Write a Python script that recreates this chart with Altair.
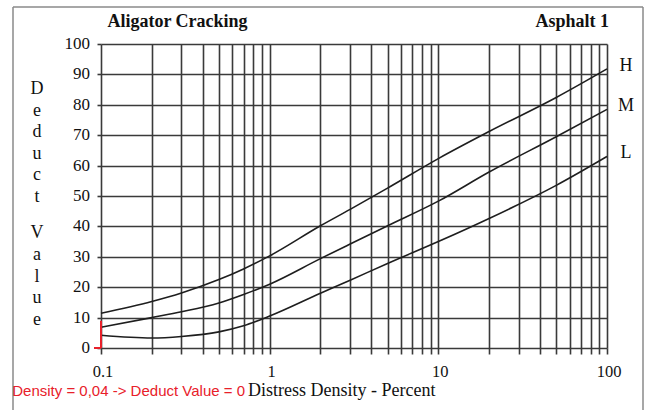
import altair as alt
import pandas as pd

# Deduct value curves for alligator cracking (asphalt), by severity
density = [0.1, 0.2, 0.3, 0.5, 0.7, 1, 2, 3, 5, 10, 20, 50, 100]
deduct_high = [11.4, 15.3, 18.1, 22.5, 26.0, 30.3, 40.2, 45.6, 52.6, 62.3, 71.2, 82.4, 91.8]
deduct_medium = [6.8, 10.0, 11.9, 14.8, 17.6, 21.0, 29.4, 34.2, 40.2, 48.3, 57.9, 69.5, 78.5]
deduct_low = [4.2, 3.3, 3.8, 5.3, 7.3, 10.5, 18.0, 22.3, 27.8, 35.0, 42.6, 53.5, 63.0]
severity = ["H", "M", "L"]

# Marker for the low-density case
marker_density = [0.1]
marker_bottom = [0.0]
marker_top = [9.0]

# Axis ticks and their labels
x_ticks = [round(m * 10 ** e, 4) for e in (-1, 0, 1) for m in range(1, 10)] + [100]
x_labelled = [0.1, 1, 10, 100]
x_label_text = ["0.1", "1", "10", "100"]
y_ticks = list(range(0, 101, 10))
y_label_text = [str(v) for v in y_ticks]

series = [deduct_high, deduct_medium, deduct_low]
rows = []
for sev, vals in zip(severity, series):
    for d, v in zip(density, vals):
        rows.append({"density": d, "deduct": v, "severity": sev})
curves = pd.DataFrame(rows)
ends = pd.DataFrame(
    {"density": [density[-1]] * 3, "deduct": [s[-1] for s in series], "severity": severity}
)
marker = pd.DataFrame({"density": marker_density, "deduct": marker_bottom, "top": marker_top})
x_labels = pd.DataFrame({"density": x_labelled, "label": x_label_text})
y_labels = pd.DataFrame({"deduct": y_ticks, "label": y_label_text})

SERIF = "Liberation Serif"
GRID = "#3a3a3a"
INK = "#111111"
RED = "#e8202a"

x_scale = alt.Scale(type="log", domain=[0.1, 100], nice=False)
y_scale = alt.Scale(domain=[0, 100], nice=False)

x_axis = alt.Axis(
    values=x_ticks,
    labels=False,
    grid=True,
    gridColor=GRID,
    gridWidth=1.6,
    gridOpacity=1,
    domain=False,
    tickColor=GRID,
    tickWidth=1.6,
    tickSize=6,
    title=None,
)
y_axis = alt.Axis(
    values=y_ticks,
    labels=False,
    grid=True,
    gridColor=GRID,
    gridWidth=1.6,
    gridOpacity=1,
    domain=False,
    tickColor=GRID,
    tickWidth=1.6,
    tickSize=4,
    title=None,
)

X = alt.X("density:Q", scale=x_scale, axis=x_axis)
Y = alt.Y("deduct:Q", scale=y_scale, axis=y_axis)

lines = alt.Chart(curves).mark_line(
    color="#1e1e1e", strokeWidth=1.6, interpolate="monotone"
).encode(x=X, y=Y, detail="severity:N")

marker_rule = alt.Chart(marker).mark_rule(color=RED, strokeWidth=2).encode(
    x=X, y=Y, y2="top:Q"
)

end_labels = alt.Chart(ends).mark_text(
    font=SERIF, fontSize=18, align="center", baseline="middle", dx=19, dy=-3, color=INK
).encode(x=X, y=Y, text="severity:N")

# Tick labels, placed through the same scales as the curves
x_tick_labels = alt.Chart(x_labels).mark_text(
    font=SERIF, fontSize=16.5, align="center", baseline="middle", dx=2, color=INK
).encode(x=X, y=alt.value(327.5), text="label:N")
y_tick_labels = alt.Chart(y_labels).mark_text(
    font=SERIF, fontSize=17, align="right", baseline="middle", color=INK
).encode(x=alt.value(-11), y=Y, text="label:N")


def blank():
    return alt.Chart(alt.Data(values=[{}]))


def caption(text, x, y, **style):
    return blank().mark_text(**style).encode(
        x=alt.value(x), y=alt.value(y), text=alt.value(text)
    )


def edge(x, x2, y, y2, **style):
    return blank().mark_rule(**style).encode(
        x=alt.value(x), x2=alt.value(x2), y=alt.value(y), y2=alt.value(y2)
    )


# Outer frame (top, left and right edges) and the red zero tick
frame_style = dict(color="#8a8a8a", strokeWidth=1.5)
frame = [
    edge(-88, 542, -37, -37, **frame_style),
    edge(-88, -88, -37, 380, **frame_style),
    edge(542, 542, -37, 380, **frame_style),
]
marker_tick = edge(-7, 0, 304, 304, color=RED, strokeWidth=2)

title_left = caption("Aligator Cracking", 76.5, -22, font=SERIF, fontSize=18,
                     fontWeight="bold", align="center", baseline="middle", color=INK)
title_right = caption("Asphalt 1", 508, -22, font=SERIF, fontSize=18,
                      fontWeight="bold", align="right", baseline="middle", color=INK)
y_title_1 = caption("D\ne\nd\nu\nc\nt", -64, 45, font=SERIF, fontSize=18,
                    align="center", baseline="middle", lineBreak="\n", lineHeight=21.6,
                    color=INK)
y_title_2 = caption("V\na\nl\nu\ne", -64, 189, font=SERIF, fontSize=18,
                    align="center", baseline="middle", lineBreak="\n", lineHeight=21.8,
                    color=INK)
x_title = caption("Distress Density - Percent", 147, 347, font=SERIF, fontSize=18,
                  align="left", baseline="middle", color=INK)
note = caption("Density = 0,04 -> Deduct Value = 0", 144, 347, font="Liberation Sans",
               fontSize=15, align="right", baseline="middle", color=RED)

chart = alt.layer(
    lines, *frame, marker_rule, marker_tick, end_labels, x_tick_labels, y_tick_labels,
    title_left, title_right, y_title_1, y_title_2, x_title, note,
).properties(
    width=506,
    height=304,
    autosize="none",
    padding={"left": 101, "top": 44, "right": 46, "bottom": 62},
    background="white",
).configure_view(stroke=None)

chart.save("out.html", embed_options={"renderer": "svg", "actions": False})
